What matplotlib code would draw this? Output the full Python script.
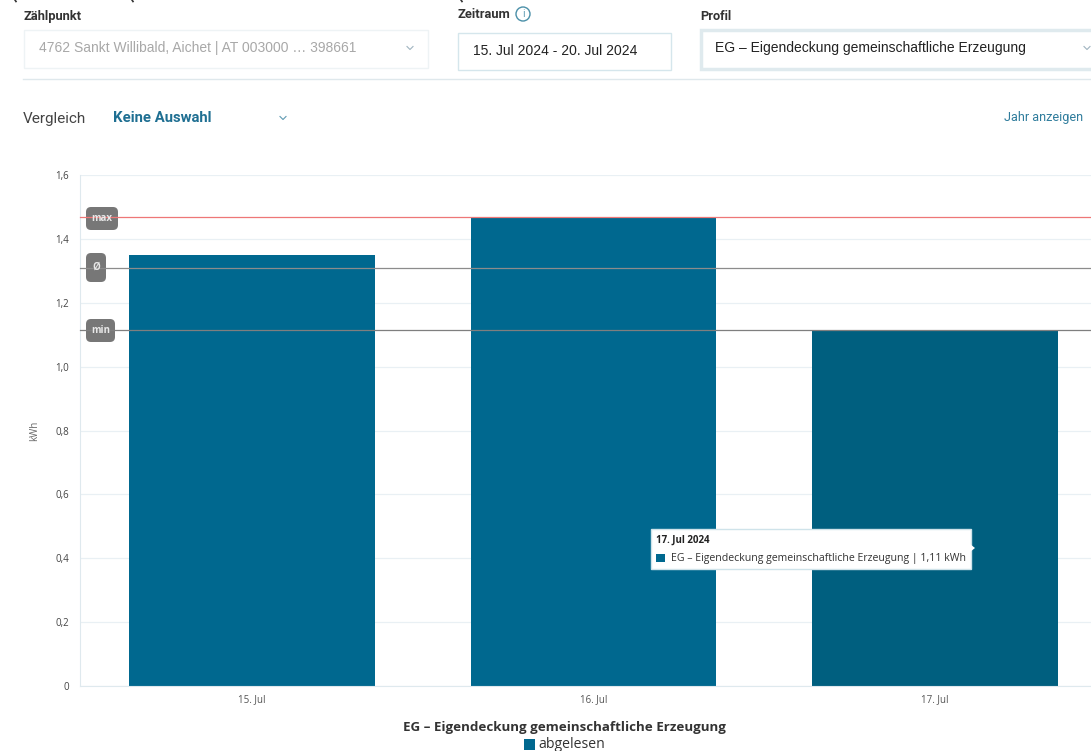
import matplotlib
matplotlib.use('Agg')
import matplotlib.pyplot as plt
from matplotlib.patches import Rectangle, FancyBboxPatch, Polygon, Circle

days = ['15. Jul', '16. Jul', '17. Jul']
values = [1.35, 1.47, 1.115]
bar_colors = ['#00688f', '#00688f', '#005f7f']
y_ticks = [0, 0.2, 0.4, 0.6, 0.8, 1.0, 1.2, 1.4, 1.6]
y_labels = ['0', '0,2', '0,4', '0,6', '0,8', '1,0', '1,2', '1,4', '1,6']
ref_names = ['max', 'Ø', 'min']
ref_values = [1.468, 1.31, 1.114]
ref_colors = ['#ee7777', '#8c8c8c', '#7f7f7f']
profile = 'EG – Eigendeckung gemeinschaftliche Erzeugung'

W, H = 1091, 751
plt.rcParams['font.family'] = ['Open Sans', 'DejaVu Sans']
fig = plt.figure(figsize=(W / 100, H / 100), dpi=100, facecolor='white')

# chart area, pixel edges
x0, x1, y_top, y_bot = 80, 1091, 175, 686
ax = fig.add_axes([x0 / W, 1 - y_bot / H, (x1 - x0) / W, (y_bot - y_top) / H])
ax.set_xlim(-0.5037, 2.457)
ax.set_ylim(0, 1.6)
ax.bar(range(3), values, width=0.72, color=bar_colors, zorder=2)
ax.set_yticks(y_ticks)
ax.set_yticklabels(y_labels, fontsize=7, color='#444444')
ax.set_xticks(range(3))
ax.set_xticklabels(days, fontsize=7, color='#555555')
ax.tick_params(length=0, pad=8)
ax.tick_params(axis='x', pad=6)
ax.grid(axis='y', color='#e9f0f4', lw=0.9, zorder=0)
ax.set_axisbelow(True)
for s in ['top', 'right']:
    ax.spines[s].set_visible(False)
for s in ['left', 'bottom']:
    ax.spines[s].set_color('#dfe9ee')
ax.set_ylabel('kWh', fontsize=7, color='#666666', labelpad=11)

# overlay in pixel coordinates for the page furniture
ui = fig.add_axes([0, 0, 1, 1], zorder=5)
ui.set_xlim(0, W)
ui.set_ylim(H, 0)
ui.axis('off')
ui.patch.set_alpha(0)

def box(x, y, w, h, edge, lw=1.0, face='white'):
    ui.add_patch(Rectangle((x, y), w, h, fc=face, ec=edge, lw=lw))

def chevron(x, y, color='#9fb4bf'):
    ui.plot([x - 3, x, x + 3], [y - 1.5, y + 1.5, y - 1.5], color=color, lw=0.8)

# bits of the cut off line at the very top
for cut_x in [15, 132, 461]:
    ui.plot([cut_x, cut_x + 1], [0, 1.5], color='#333333', lw=1.2)

ui.text(23, 16.5, 'Zählpunkt', fontsize=9.3, fontweight='bold', color='#333333', va='center', family='Roboto')
box(23.5, 29.5, 404, 38, '#eef3f5')
ui.text(39, 48, '4762 Sankt Willibald, Aichet | AT 003000 … 398661', fontsize=10, color='#a8a8a8',
        va='center', family='Liberation Sans')
chevron(410, 48)

ui.text(457, 14, 'Zeitraum', fontsize=9.3, fontweight='bold', color='#333333', va='center', family='Roboto')
ui.add_patch(Circle((523, 14), 7, fc='white', ec='#4a8fa8', lw=1))
ui.text(523, 14.5, 'i', fontsize=7, color='#4a8fa8', ha='center', va='center')
box(457.5, 32.5, 213, 37, '#d5e6ec')
ui.text(473, 51, '15. Jul 2024 - 20. Jul 2024', fontsize=10, color='#222222', va='center', family='Liberation Sans')

ui.text(700, 16, 'Profil', fontsize=9.2, fontweight='bold', color='#333333', va='center', family='Roboto')
box(700.5, 29.5, 400, 39, '#dfeaee', lw=2.5)
ui.text(715, 48, profile, fontsize=10, color='#222222', va='center', family='Liberation Sans')
chevron(1087, 48)

ui.plot([23, 1091], [79, 79], color='#dfe8ec', lw=1)

ui.text(23, 118.5, 'Vergleich', fontsize=11, color='#444444', va='center', family='Roboto')
ui.text(113, 118.5, 'Keine Auswahl', fontsize=10.7, fontweight='bold', color='#1f6f92', va='center', family='Roboto')
chevron(283, 118, '#5f9ab2')
ui.text(1083, 118, 'Jahr anzeigen', fontsize=9.1, color='#2f7c9c', va='center', ha='right', family='Roboto')

# badges sit under the reference lines, their labels on top
badges = [(86, 207, 32, 23), (86, 253, 20, 29), (86, 319, 29, 23)]
for (bx, by, bw, bh), name in zip(badges, ref_names):
    ui.add_patch(FancyBboxPatch((bx + 5, by + 5), bw - 10, bh - 10, boxstyle='round,pad=5,rounding_size=5',
                                fc='#777777', ec='none', zorder=2))
    ui.text(bx + bw / 2, by + bh / 2, name, fontsize=7, fontweight='bold', color='#e8e8e8',
            ha='center', va='center', zorder=4)
for v, c in zip(ref_values, ref_colors):
    ui.plot([0, 1], [v, v], color=c, lw=0.9, transform=ax.get_yaxis_transform(), zorder=3)

# tooltip
box(650.5, 529, 320, 40, '#cfe3ea')
ui.add_patch(Polygon([[970, 544], [975, 548], [970, 552]], fc='white', ec='none', zorder=4))
ui.text(656, 540, '17. Jul 2024', fontsize=7, fontweight='bold', color='#222222', va='center')
ui.add_patch(Rectangle((656, 554), 9, 8, fc=bar_colors[0], ec='none'))
ui.text(671, 558, profile + ' | 1,11 kWh', fontsize=7.6, color='#333333', va='center')

# title + legend under the chart
ui.text(564.5, 727, profile, fontsize=9.6, fontweight='bold', color='#333333', ha='center', va='center')
ui.add_patch(Rectangle((524, 739), 11, 11, fc=bar_colors[0], ec='none'))
ui.text(538, 745, 'abgelesen', fontsize=10.1, color='#333333', va='center')

fig.savefig('out.png', dpi=100)
